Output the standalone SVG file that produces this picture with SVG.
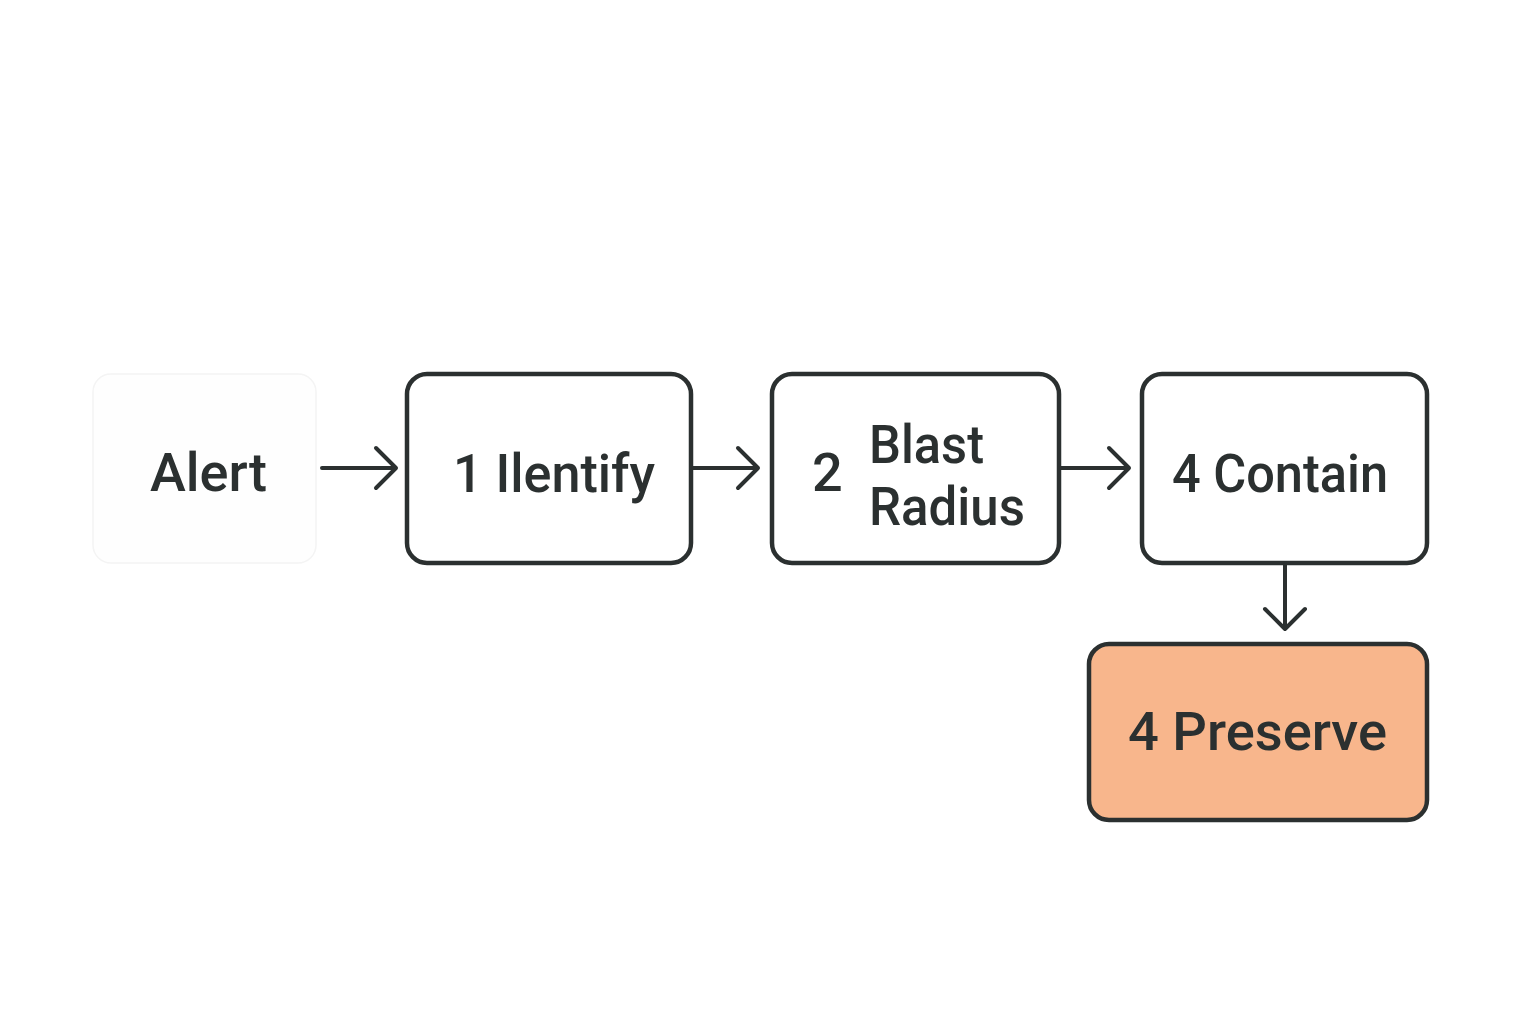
<svg xmlns="http://www.w3.org/2000/svg" width="1536" height="1024" viewBox="0 0 1536 1024">
<defs>
<style>
.box{fill:#ffffff;stroke:#2b3030;stroke-width:4.5}
.faint{fill:#fefefe;stroke:#f4f4f4;stroke-width:1.5}
.hl{fill:#f8b68c;stroke:#2b3030;stroke-width:4.5}
.t{font-family:Roboto,"Liberation Sans",sans-serif;font-size:54px;fill:#2b3030;font-weight:500}
.c{fill:none;stroke:#2b3030;stroke-width:4;stroke-linecap:round;stroke-linejoin:round}
</style>
</defs>
<rect width="1536" height="1024" fill="#ffffff"/>
<g id="node-alert">
<rect class="faint" x="93" y="374" width="223" height="189" rx="18"/>
<text class="t" x="150" y="491" textLength="117" lengthAdjust="spacingAndGlyphs">Alert</text>
</g>
<g id="node-identify">
<rect class="box" x="407" y="374" width="284" height="189" rx="20"/>
<text class="t" x="453" y="492" textLength="202" lengthAdjust="spacingAndGlyphs">1 Ilentify</text>
</g>
<g id="node-blast">
<rect class="box" x="772" y="374" width="287" height="189" rx="20"/>
<text class="t" x="812" y="491">2</text>
<text class="t" x="869" y="463" textLength="115" lengthAdjust="spacingAndGlyphs">Blast</text>
<text class="t" x="869" y="525" textLength="156" lengthAdjust="spacingAndGlyphs">Radius</text>
</g>
<g id="node-contain">
<rect class="box" x="1142" y="374" width="285" height="189" rx="20"/>
<text class="t" x="1172" y="492" textLength="216" lengthAdjust="spacingAndGlyphs">4 Contain</text>
</g>
<g id="node-preserve">
<rect class="hl" x="1089" y="644" width="338" height="176" rx="20"/>
<text class="t" x="1128" y="750" textLength="259" lengthAdjust="spacingAndGlyphs">4 Preserve</text>
</g>
<g id="connectors">
<path class="c" d="M322 468 H395 M376 448 L396 468 L376 488"/>
<path class="c" d="M693 468 H758 M738 448 L758 468 L738 488"/>
<path class="c" d="M1061 468 H1129 M1109 448 L1129 468 L1109 488"/>
<path class="c" d="M1285 565 V629 M1265 609 L1285 629 L1305 609"/>
</g>
</svg>
